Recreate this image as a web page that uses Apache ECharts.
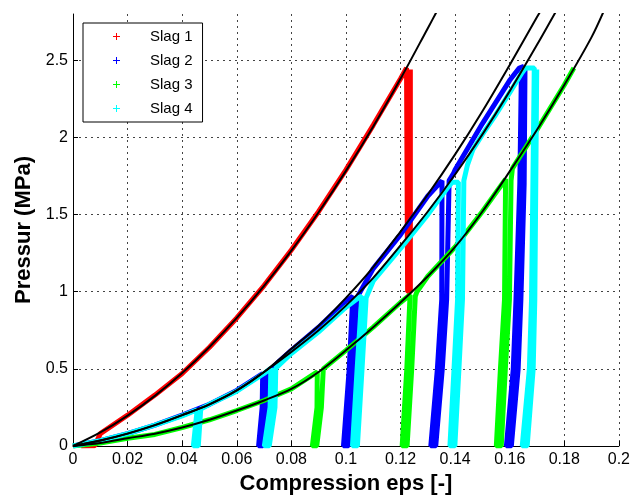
<!DOCTYPE html>
<html><head><meta charset="utf-8">
<script src="https://cdn.jsdelivr.net/npm/echarts@6/dist/echarts.min.js"></script>
<style>html,body{margin:0;padding:0;background:#fff}#c{width:633px;height:500px}</style>
</head><body><div id="c"></div>
<script>
// ---- data ----
const legendNames = ['Slag 1', 'Slag 2', 'Slag 3', 'Slag 4'];

const slag1Data = [[0.003,0],[0.008,0.002],[0.010,0.08],[0.02,0.20],[0.03,0.33],[0.04,0.47],[0.05,0.64],[0.06,0.83],[0.07,1.04],[0.08,1.27],[0.09,1.52],[0.10,1.79],[0.11,2.08],[0.12,2.38],[0.1222,2.45],[0.1226,2.45],[0.1226,1.0],[0.1236,1.0],[0.1236,2.44]];

const slag2Data = [[0,0],[0.01,0.035],[0.02,0.08],[0.03,0.135],[0.04,0.20],[0.05,0.27],[0.06,0.36],[0.0695,0.47],
  [0.0697,0.46],[0.0693,0.25],[0.0680,0],[0.0696,0],[0.0709,0.25],[0.0713,0.47],
  [0.075,0.54],[0.08,0.62],[0.09,0.77],[0.10,0.94],[0.1025,0.97],
  [0.1022,0.96],[0.1012,0.5],[0.0991,0],[0.1009,0],[0.1029,0.5],[0.1040,0.96],
  [0.11,1.15],[0.12,1.37],[0.13,1.62],[0.1352,1.72],
  [0.1358,1.72],[0.1351,0.95],[0.1335,0.5],[0.1311,0],[0.1329,0],[0.1353,0.5],[0.1369,0.95],[0.1378,1.72],[0.1395,1.77],
  [0.14,1.79],[0.15,2.09],[0.16,2.37],[0.1635,2.45],[0.1652,2.46],
  [0.1643,2.45],[0.1637,1.7],[0.1623,0.95],[0.1613,0.5],[0.1588,0],[0.1606,0],[0.1631,0.5],[0.1641,0.95],[0.1653,1.7],[0.1656,2.44]];

const slag3Data = [[0,0],[0.01,0.02],[0.02,0.05],[0.03,0.075],[0.04,0.12],[0.05,0.17],[0.06,0.23],[0.07,0.295],[0.08,0.37],[0.0895,0.48],
  [0.0898,0.48],[0.0894,0.25],[0.0877,0],[0.0893,0],[0.0910,0.25],[0.0917,0.50],
  [0.10,0.62],[0.11,0.77],[0.12,0.93],[0.1235,0.98],
  [0.1237,0.97],[0.1223,0.5],[0.1206,0],[0.1224,0],[0.1241,0.5],[0.1254,0.97],[0.126,1.0],
  [0.13,1.10],[0.14,1.29],[0.15,1.52],[0.1565,1.68],[0.1585,1.73],
  [0.1587,1.72],[0.1581,0.95],[0.1566,0.5],[0.1551,0],[0.1569,0],[0.1584,0.5],[0.1599,0.95],[0.1605,1.72],[0.161,1.80],
  [0.17,2.05],[0.18,2.34],[0.1835,2.45]];

const slag4Data = [[0,0],[0.01,0.035],[0.02,0.08],[0.03,0.135],[0.04,0.195],[0.0455,0.235],
  [0.0452,0.235],[0.0441,0],[0.0459,0],[0.0468,0.24],
  [0.05,0.27],[0.06,0.355],[0.07,0.47],[0.0725,0.505],
  [0.0727,0.505],[0.0722,0.25],[0.0701,0],[0.0719,0],[0.0740,0.25],[0.0743,0.505],
  [0.08,0.60],[0.09,0.74],[0.10,0.90],[0.1045,0.96],[0.1058,0.97],
  [0.1057,0.96],[0.1041,0.5],[0.1024,0],[0.1042,0],[0.1059,0.5],[0.1074,0.96],
  [0.11,1.07],[0.12,1.28],[0.13,1.50],[0.1375,1.68],[0.1390,1.71],[0.1412,1.71],
  [0.1416,1.71],[0.1409,0.95],[0.1396,0.5],[0.1381,0],[0.1399,0],[0.1414,0.5],[0.1427,0.95],[0.1432,1.72],[0.1445,1.82],[0.1465,1.92],
  [0.15,2.02],[0.155,2.15],[0.16,2.29],[0.1645,2.42],[0.1658,2.45],[0.1690,2.45],
  [0.1688,2.45],[0.1680,0.95],[0.1672,0.5],[0.1646,0],[0.1664,0],[0.1686,0.5],[0.1692,0.95],[0.1699,2.44]];

const fit1 = [[0,0],[0.01,0.088],[0.02,0.197],[0.03,0.325],[0.04,0.473],[0.05,0.642],[0.06,0.83],[0.07,1.038],[0.08,1.266],[0.09,1.515],[0.10,1.783],[0.11,2.071],[0.12,2.38],[0.13,2.708],[0.134,2.84]];
const fit2 = [[0,0],[0.01,0.035],[0.02,0.08],[0.03,0.135],[0.04,0.20],[0.05,0.27],[0.06,0.36],[0.07,0.48],[0.08,0.63],[0.09,0.78],[0.10,0.96],[0.11,1.16],[0.12,1.39],[0.13,1.63],[0.14,1.89],[0.15,2.17],[0.16,2.47],[0.17,2.78],[0.172,2.84]];
const fit3 = [[0,0],[0.01,0.02],[0.02,0.05],[0.03,0.08],[0.04,0.12],[0.05,0.17],[0.06,0.23],[0.07,0.295],[0.08,0.37],[0.09,0.48],[0.10,0.62],[0.11,0.77],[0.12,0.93],[0.13,1.10],[0.14,1.29],[0.15,1.52],[0.16,1.78],[0.17,2.05],[0.18,2.34],[0.19,2.65],[0.195,2.84]];
const fit4 = [[0,0],[0.01,0.035],[0.02,0.08],[0.03,0.135],[0.04,0.20],[0.05,0.27],[0.06,0.36],[0.07,0.48],[0.08,0.61],[0.09,0.75],[0.10,0.91],[0.11,1.09],[0.12,1.30],[0.13,1.52],[0.14,1.76],[0.15,2.02],[0.16,2.30],[0.17,2.60],[0.178,2.85]];

// ---- chart ----
const colors = ['#ff0000', '#0000ff', '#00ff00', '#00ffff'];
const plus = 'path://M3,0H4V3H7V4H4V7H3V4H0V3H3Z';
const font = '"Liberation Sans", Arial, sans-serif';

function dataSeries(name, data, color) {
  return { name: name, type: 'line', data: data, showSymbol: false, color: color,
    lineStyle: { color: color, width: 5 }, z: 2, animation: false, silent: true };
}
function fitSeries(data) {
  return { type: 'line', data: data, showSymbol: false, smooth: 0.3,
    lineStyle: { color: '#000', width: 2 }, z: 3, animation: false, silent: true };
}

const chart = echarts.init(document.getElementById('c'), null, { renderer: 'canvas' });
chart.setOption({
  backgroundColor: '#fff',
  animation: false,
  grid: { left: 73, right: 9, top: 14, bottom: 54 },
  legend: {
    data: legendNames.map(n => ({ name: n, icon: plus })),
    orient: 'vertical', left: 83, top: 23,
    itemWidth: 7, itemHeight: 7, itemGap: 9,
    backgroundColor: '#fff', borderColor: '#000', borderWidth: 1,
    padding: [6, 10, 6, 30],
    textStyle: { fontFamily: font, fontSize: 15, color: '#000', padding: [0, 0, 0, 25] },
    selectedMode: false
  },
  xAxis: {
    type: 'value', min: 0, max: 0.2, interval: 0.02,
    name: 'Compression eps [-]', nameLocation: 'middle', nameGap: 25,
    nameTextStyle: { fontFamily: font, fontSize: 22, fontWeight: 'bold', color: '#000' },
    axisLine: { lineStyle: { color: '#000', width: 1 } },
    axisTick: { inside: true, length: 5, lineStyle: { color: '#000' } },
    axisLabel: { fontFamily: font, fontSize: 16, color: '#000', margin: 6 },
    splitLine: { show: true, lineStyle: { color: '#444', type: [2, 4], width: 1 } }
  },
  yAxis: {
    type: 'value', min: 0, max: 2.8, interval: 0.5,
    name: 'Pressur (MPa)', nameLocation: 'middle', nameGap: 31,
    nameTextStyle: { fontFamily: font, fontSize: 22, fontWeight: 'bold', color: '#000' },
    axisLine: { show: true, lineStyle: { color: '#000', width: 1 } },
    axisTick: { show: true, inside: true, length: 5, lineStyle: { color: '#000' } },
    axisLabel: { fontFamily: font, fontSize: 16, color: '#000', margin: 5, showMaxLabel: false },
    splitLine: { show: true, showMaxLine: false, lineStyle: { color: '#444', type: [2, 4], width: 1 } }
  },
  series: [
    dataSeries(legendNames[0], slag1Data, colors[0]),
    dataSeries(legendNames[1], slag2Data, colors[1]),
    dataSeries(legendNames[2], slag3Data, colors[2]),
    dataSeries(legendNames[3], slag4Data, colors[3]),
    fitSeries(fit1), fitSeries(fit2), fitSeries(fit3), fitSeries(fit4)
  ]
});
</script></body></html>
